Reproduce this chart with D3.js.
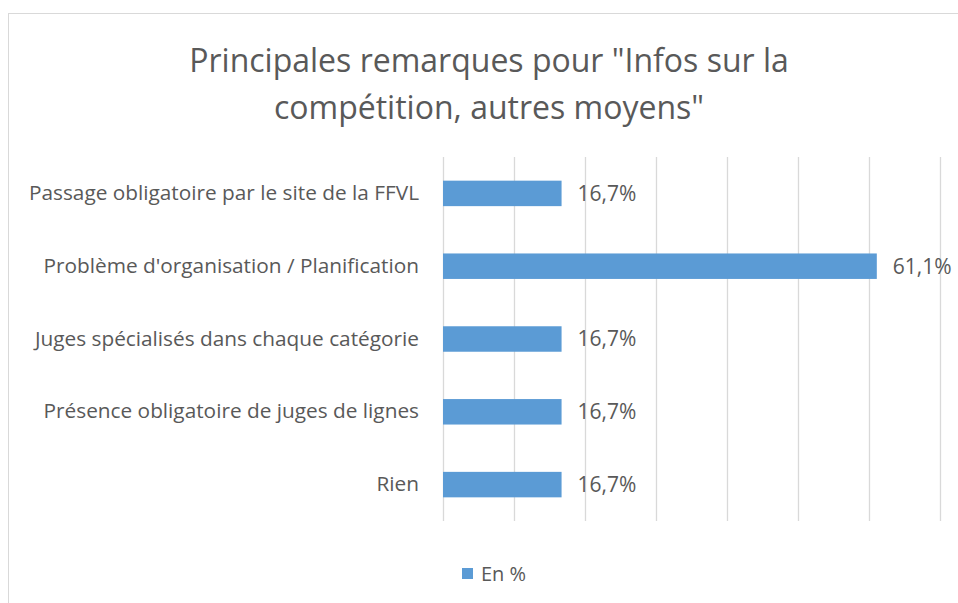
<!DOCTYPE html>
<html><head><meta charset="utf-8">
<script src="https://cdn.jsdelivr.net/npm/d3@7"></script>
<style>body{margin:0;background:#fff}svg{display:block}</style>
</head><body>
<svg id="c" width="958" height="603"></svg>
<script>
const titleLines = ["Principales remarques pour \"Infos sur la", "compétition, autres moyens\""];
const categories = ["Passage obligatoire par le site de la FFVL","Problème d'organisation / Planification","Juges spécialisés dans chaque catégorie","Présence obligatoire de juges de lignes","Rien"];
const values = [16.7, 61.1, 16.7, 16.7, 16.7];
const xTicks = [0,10,20,30,40,50,60,70];
const seriesName = "En %";

const svg = d3.select("#c");
const font = "'Open Sans', sans-serif";
const textCol = "#595959";
svg.append("rect").attr("x",8.5).attr("y",13.5).attr("width",1000).attr("height",700)
  .attr("fill","#fff").attr("stroke","#d9d9d9").attr("stroke-width",1);

const m = {left:443, right:940, top:157, bottom:521};
const x = d3.scaleLinear().domain([0,70]).range([m.left, m.right]);
const y = d3.scaleBand().domain(categories).range([m.top, m.bottom]).paddingInner(0.65).paddingOuter(0.325);

svg.append("g").selectAll("line").data(xTicks).join("line")
  .attr("x1",d=>Math.round(x(d))+0.5).attr("x2",d=>Math.round(x(d))+0.5)
  .attr("y1",m.top).attr("y2",m.bottom).attr("stroke","#d9d9d9").attr("stroke-width",1.3);

const title = svg.append("text").attr("text-anchor","middle").attr("fill",textCol)
  .style("font-family",font).style("font-size","32px");
titleLines.forEach((t,i)=>title.append("tspan").attr("x",489).attr("y",72+i*47).text(t));

const yAxis = d3.axisLeft(y).tickSize(0).tickPadding(24);
const ga = svg.append("g").attr("transform",`translate(${m.left},0)`).call(yAxis);
ga.select(".domain").remove();
ga.selectAll("text").attr("fill",textCol).style("font-family",font).style("font-size","20.8px");

svg.append("g").selectAll("rect").data(values).join("rect")
  .attr("x",x(0)).attr("y",(d,i)=>y(categories[i]))
  .attr("width",d=>x(d)-x(0)).attr("height",y.bandwidth())
  .attr("fill","#5b9bd5");

svg.append("g").selectAll("text").data(values).join("text")
  .attr("x",d=>x(d)+16).attr("y",(d,i)=>y(categories[i])+y.bandwidth()/2)
  .attr("dy","0.35em").attr("fill",textCol).style("font-family",font).style("font-size","21px")
  .text(d=>d.toFixed(1).replace(".",",")+"%");

const lg = svg.append("g");
lg.append("rect").attr("x",462).attr("y",568).attr("width",11).attr("height",11).attr("fill","#5b9bd5");
lg.append("text").attr("x",481).attr("y",574).attr("dy","0.35em").attr("fill",textCol)
  .style("font-family",font).style("font-size","20px").text(seriesName);
</script>
</body></html>
